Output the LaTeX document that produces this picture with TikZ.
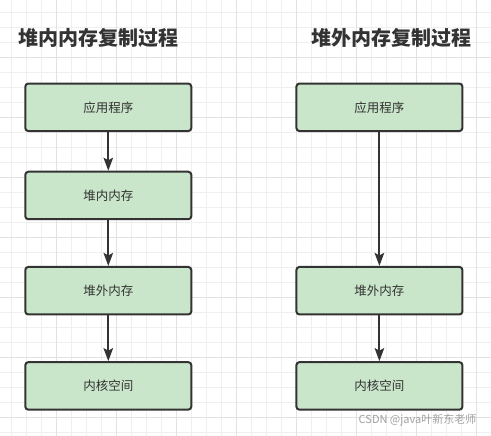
\documentclass[tikz,border=0pt]{standalone}
\usepackage{fontspec}
\setmainfont{Noto Sans CJK SC}
\newfontfamily\cjk{Noto Sans CJK SC}
\usetikzlibrary{arrows.meta}
\definecolor{boxfill}{HTML}{C9E6CA}
\definecolor{ink}{HTML}{333333}
\definecolor{gridminor}{HTML}{EFEFEF}
\definecolor{gridmajor}{HTML}{E2E2E2}
\definecolor{wm}{HTML}{A0A0A0}
\begin{document}
\begin{tikzpicture}[x=1pt,y=-1pt,
  stepbox/.style={draw=ink, line width=2pt, fill=boxfill, rounded corners=3pt,
    minimum width=166pt, minimum height=47.5pt, inner sep=0pt,
    text=ink, font=\cjk\fontsize{12.5}{14}\selectfont},
  title/.style={text=ink, font=\cjk\bfseries\fontsize{20}{24}\selectfont, inner sep=0pt},
  conn/.style={draw=ink, line width=2pt, -{Stealth[length=13pt,width=9.5pt,inset=2.5pt]}}]
\useasboundingbox (0,0) rectangle (491,436);
\fill[white] (0,0) rectangle (491,436);
% grid
\foreach \i in {0,...,32} {
  \draw[gridminor, line width=1pt] ({11+15*\i},0) -- ({11+15*\i},436);
}
\foreach \i in {0,...,28} {
  \draw[gridminor, line width=1pt] (0,{12.5+15*\i}) -- (491,{12.5+15*\i});
}
\foreach \i in {0,...,7} {
  \draw[gridmajor, line width=1pt] ({56+60*\i},0) -- ({56+60*\i},436);
  \draw[gridmajor, line width=1pt] (0,{57.5+60*\i}) -- (491,{57.5+60*\i});
}
% titles
\node[title] (t1) at (98.5,37.5) {堆内内存复制过程};
\node[title] (t2) at (391,37.5) {堆外内存复制过程};
% left column
\node[stepbox] (l1) at (108.3,107.3) {应用程序};
\node[stepbox] (l2) at (108.3,195.5) {堆内内存};
\node[stepbox] (l3) at (108.3,290.7) {堆外内存};
\node[stepbox] (l4) at (108.3,385.9) {内核空间};
% right column
\node[stepbox] (r1) at (379.4,107.3) {应用程序};
\node[stepbox] (r3) at (379.4,290.7) {堆外内存};
\node[stepbox] (r4) at (379.4,385.9) {内核空间};
% connectors
\draw[conn] (l1.south) -- (l2.north);
\draw[conn] (l2.south) -- (l3.north);
\draw[conn] (l3.south) -- (l4.north);
\draw[conn] (r1.south) -- (r3.north);
\draw[conn] (r3.south) -- (r4.north);
% watermark
\node[text=wm, font=\cjk\fontsize{11}{13}\selectfont, inner sep=0pt] (wmk) at (417.5,420) {CSDN @java叶新东老师};
\end{tikzpicture}
\end{document}
